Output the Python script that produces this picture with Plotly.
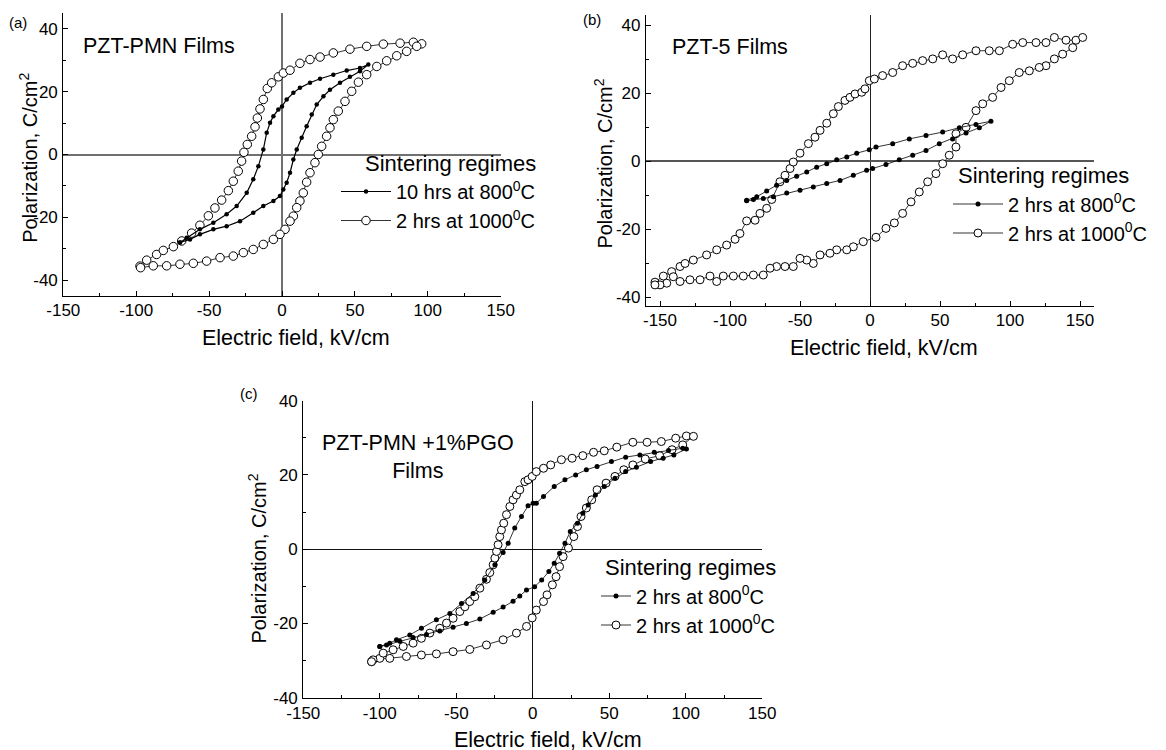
import plotly.graph_objects as go

FONT = "Liberation Sans, Arial, sans-serif"
W, H = 1166, 750
PAGE_OFFSET = 8  # the page body margin that shifts the figure in the window

# ---------------- data ----------------
# Panel (a) PZT-PMN films
A_OPEN_X = [-97.4, -92.8, -86.0, -81.4, -74.5, -68.8, -62.0, -56.3, -50.5, -46.0, -41.4, -36.8, -33.4,
            -30.0, -27.7, -26.1, -23.8, -20.8, -18.5, -16.9, -15.1, -12.8, -10.1, -7.1, -2.5, 0.9, 5.5,
            12.3, 19.2, 26.1, 35.2, 46.6, 58.1, 69.5, 81.0, 90.1, 95.8,
            92.4, 85.5, 78.7, 71.8, 65.0, 58.1, 52.4, 47.8, 43.2, 38.6, 35.2, 32.9, 30.6, 27.2, 24.9,
            22.6, 19.2, 16.9, 14.6, 12.3, 10.1, 7.8, 5.5, 2.1, -1.4, -5.9, -12.8, -19.7, -26.5, -33.4,
            -42.5, -51.7, -60.8, -70.0, -79.1, -88.3, -97.0]
A_OPEN_Y = [-35.5, -33.6, -31.8, -30.5, -29.3, -27.5, -25.0, -22.5, -19.5, -17.0, -14.5, -11.5, -8.5,
            -5.3, -2.1, 0.7, 3.2, 5.8, 8.8, 11.6, 14.5, 17.5, 21.0, 22.8, 24.7, 25.9, 26.8,
            29.0, 30.2, 31.0, 32.3, 33.5, 34.4, 35.1, 35.4, 35.7, 35.2,
            34.4, 32.8, 31.4, 29.8, 28.0, 25.4, 23.0, 20.1, 16.9, 13.8, 11.1, 8.5, 5.8, 2.6, 0.0,
            -2.6, -5.8, -8.8, -12.2, -14.8, -16.9, -19.6, -21.2, -23.8, -25.4, -27.0, -28.6, -30.2, -31.2,
            -32.3, -32.8, -33.9, -34.6, -34.9, -35.4, -35.4, -36.0]
A_FILL_X = [-70.0, -65.4, -56.3, -47.1, -38.0, -31.1, -24.2, -19.7, -16.2, -12.8, -10.5, -8.2, -5.9,
            -2.5, 0.0, 3.2, 7.8, 12.3, 19.2, 26.1, 35.2, 44.4, 53.5, 59.2,
            53.5, 46.6, 39.8, 32.9, 28.4, 23.8, 20.4, 16.9, 13.5, 10.1, 7.8, 5.5, 3.2, 0.9, -1.4,
            -5.9, -12.8, -19.7, -28.8, -38.0, -47.1, -56.3, -63.1, -70.0]
A_FILL_Y = [-28.0, -26.5, -23.8, -21.7, -19.0, -16.4, -12.2, -7.9, -3.7, 1.6, 6.9, 10.1, 12.2,
            14.3, 15.3, 17.5, 19.6, 21.2, 22.8, 24.1, 25.4, 26.7, 27.5, 28.6,
            26.5, 24.7, 22.8, 20.6, 18.5, 15.9, 12.7, 9.0, 5.3, 1.6, -1.6, -5.8, -9.0, -11.1, -13.2,
            -14.8, -16.4, -18.5, -21.2, -22.8, -23.8, -25.4, -27.0, -28.0]

# Panel (b) PZT-5 films
B_OPEN_X = [-153.6, -147.6, -141.7, -135.7, -132.1, -126.2, -116.7, -109.5, -102.4, -96.4, -92.9, -88.1,
            -82.1, -78.6, -73.8, -70.2, -64.3, -60.7, -57.1, -54.8, -50.0, -44.0, -39.3, -35.7, -30.9,
            -26.2, -22.6, -17.9, -14.3, -10.7, -5.9, -3.6, -0.5, 3.1, 9.0, 16.2, 23.3, 30.5, 37.6, 44.8,
            51.9, 59.0, 66.2, 75.7, 85.2, 92.4, 101.9, 109.1, 118.6, 125.7, 131.7, 140.0, 147.1, 151.9,
            144.8, 137.6, 131.7, 125.7, 120.9, 113.8, 106.6, 99.5, 93.6, 87.6, 80.5, 75.7, 68.6, 61.4,
            61.4, 56.6, 51.9, 47.1, 41.2, 35.2, 29.3, 23.3, 17.4, 11.4, 4.3, -4.8, -11.9, -16.6, -23.8,
            -28.6, -35.7, -40.5, -45.2, -50.0, -54.8, -60.7, -66.7, -71.4, -76.2, -83.3, -90.5, -97.6,
            -104.8, -109.5, -114.3, -121.4, -128.6, -135.7, -140.5, -145.2, -150.0, -153.6]
B_OPEN_Y = [-35.5, -33.7, -32.4, -30.9, -30.0, -29.0, -27.5, -26.0, -24.6, -22.9, -21.2, -17.5,
            -17.3, -15.3, -13.8, -11.2, -6.0, -4.1, -2.1, -0.2, 2.4, 5.2, 7.1, 9.1, 11.2,
            14.0, 16.1, 17.9, 18.8, 19.8, 20.3, 21.3, 23.7, 24.2, 25.2, 26.1, 28.1, 28.8, 29.6, 30.1,
            31.3, 30.1, 31.3, 32.5, 32.5, 32.5, 34.4, 34.9, 34.9, 34.9, 36.4, 35.6, 35.6, 36.4,
            33.4, 31.5, 30.1, 28.1, 27.6, 26.6, 26.1, 23.7, 21.7, 18.8, 16.9, 14.9, 10.0, 8.1,
            4.2, 1.8, -0.7, -3.6, -6.0, -9.0, -11.9, -15.3, -18.1, -19.7, -22.3, -23.6, -25.1, -26.0, -26.0,
            -27.0, -27.5, -30.0, -29.0, -28.5, -30.9, -30.9, -30.9, -31.4, -33.4, -33.4, -33.7, -33.7,
            -33.7, -35.3, -33.7, -34.8, -34.8, -35.3, -33.9, -35.8, -36.3, -36.3]
B_FILL_X = [-88.1, -80.9, -73.8, -66.7, -59.5, -52.4, -45.2, -38.1, -30.9, -23.8, -16.6, -9.5, -0.5,
            4.3, 16.2, 28.1, 40.0, 51.9, 63.8, 75.7, 86.4,
            78.1, 68.6, 59.0, 49.5, 40.0, 30.5, 20.9, 11.4, 1.9, -2.4, -11.9, -21.4, -30.9, -40.5,
            -50.0, -59.5, -69.0, -76.2, -83.3, -88.1]
B_FILL_Y = [-11.4, -10.4, -8.7, -7.0, -5.6, -4.4, -3.1, -1.7, -0.7, 0.5, 1.3, 2.4, 3.4,
            4.2, 5.2, 6.6, 7.6, 8.6, 9.9, 10.8, 11.8,
            9.9, 8.3, 6.6, 5.2, 3.2, 1.8, 0.5, -0.9, -2.1, -2.6, -4.1, -5.6, -6.5, -7.5,
            -8.5, -9.3, -10.4, -10.9, -11.2, -11.6]

# Panel (c) PZT-PMN + 1% PGO films
C_OPEN_X = [-105.4, -100.0, -97.8, -91.3, -84.7, -78.2, -72.8, -67.3, -60.8, -56.4, -52.1, -47.7, -44.4,
            -41.2, -37.9, -34.6, -30.3, -28.1, -25.9, -24.8, -23.7, -22.7, -21.6, -20.5, -19.0, -17.2,
            -15.0, -12.9, -10.7, -8.5, -5.2, -3.1, -0.4, 2.3, 7.0, 11.7, 18.7, 25.7, 32.7, 39.7, 46.7,
            54.9, 65.4, 74.7, 84.0, 93.4, 100.4, 105.0,
            98.0, 91.0, 82.9, 73.5, 65.4, 59.5, 53.7, 47.9, 42.0, 38.5, 35.0, 31.5, 29.2, 26.8, 23.3,
            19.8, 17.5, 15.2, 12.8, 9.3, 7.0, 2.3, -0.4, -4.1, -10.7, -19.4, -30.3, -41.2, -52.1,
            -63.0, -72.8, -82.6, -93.5, -104.4, -105.4]
C_OPEN_Y = [-30.3, -29.4, -28.0, -27.1, -26.2, -25.3, -24.0, -22.6, -21.3, -19.9, -18.6, -16.8, -15.5,
            -14.1, -12.8, -10.5, -8.1, -6.3, -4.2, -2.4, -0.6, 1.2, 3.4, 5.2, 7.0, 9.3,
            11.5, 13.3, 14.6, 16.0, 18.2, 18.7, 19.6, 20.9, 21.8, 22.7, 24.1, 24.5, 25.2, 26.1, 26.5,
            27.5, 28.8, 28.8, 29.0, 29.9, 30.5, 30.4,
            28.1, 26.8, 25.2, 24.3, 22.7, 21.4, 19.6, 17.8, 16.0, 13.3, 11.1, 8.8, 6.1, 3.4, 0.3,
            -2.0, -4.7, -7.4, -9.6, -12.3, -14.1, -16.4, -18.5, -20.8, -22.6, -24.4, -25.8, -27.0, -27.6,
            -28.2, -28.5, -28.9, -29.4, -29.8, -30.3]
C_FILL_X = [-100.0, -93.5, -89.1, -80.4, -72.8, -63.0, -54.2, -46.6, -39.0, -31.4, -24.8, -19.4, -16.1,
            -11.8, -7.4, -3.1, 0.2, 2.3, 7.0, 14.0, 21.0, 28.0, 35.0, 42.0, 51.4, 60.7, 70.0, 79.4,
            88.7, 98.0, 100.4,
            92.2, 85.2, 77.0, 67.7, 60.7, 53.7, 46.7, 40.9, 36.2, 32.7, 29.2, 24.5, 21.0, 17.5, 14.0,
            10.5, 5.8, 1.2, -4.1, -8.5, -12.9, -19.4, -25.9, -34.6, -43.4, -52.1, -60.8, -69.5, -78.2,
            -86.9, -95.6, -100.0]
C_FILL_Y = [-26.2, -25.3, -24.4, -23.1, -21.3, -19.0, -17.3, -14.6, -11.9, -8.3, -4.2, -0.9, 1.6,
            5.7, 8.8, 11.7, 12.4, 12.4, 14.2, 16.9, 18.7, 20.0, 21.4, 22.3, 23.6, 24.8, 25.4, 26.1,
            26.6, 27.2, 27.0,
            25.4, 24.5, 23.6, 22.1, 20.9, 19.1, 16.9, 14.6, 11.9, 9.7, 7.0, 4.8, 1.6, -1.1, -3.8,
            -6.0, -8.3, -10.1, -11.0, -12.6, -14.0, -15.6, -17.0, -18.8, -20.0, -21.0, -22.0, -23.0, -23.8,
            -24.8, -25.8, -26.2]

A_NAMES = ["10 hrs at 800<sup>0</sup>C", "2 hrs at 1000<sup>0</sup>C"]
B_NAMES = ["2 hrs at 800<sup>0</sup>C", "2 hrs at 1000<sup>0</sup>C"]
C_NAMES = ["2 hrs at 800<sup>0</sup>C", "2 hrs at 1000<sup>0</sup>C"]

# tick positions and labels (hyphen-minus as in the reference)
X_TICKS = [-150, -100, -50, 0, 50, 100, 150]
X_TICK_TEXT = ["-150", "-100", "-50", "0", "50", "100", "150"]
Y_TICKS = [-40, -20, 0, 20, 40]
Y_TICK_TEXT = ["-40", "-20", "0", "20", "40"]
X_TITLE = "Electric field, kV/cm"
Y_TITLE = "Polarization, C/cm<sup>2</sup>"

# ---------------- figure ----------------
fig = go.Figure()

def add_pair(xo, yo, xf, yf, names, xa, ya, leg, open_size, fill_size, fill_lw):
    fig.add_trace(go.Scatter(
        x=xo, y=yo, xaxis=xa, yaxis=ya, legend=leg, name=names[1], legendrank=2,
        mode="lines+markers",
        line=dict(color="black", width=0.8),
        marker=dict(symbol="circle", size=open_size, color="white",
                    line=dict(color="black", width=1)),
    ))
    fig.add_trace(go.Scatter(
        x=xf, y=yf, xaxis=xa, yaxis=ya, legend=leg, name=names[0], legendrank=1,
        mode="lines+markers",
        line=dict(color="black", width=fill_lw),
        marker=dict(symbol="circle", size=fill_size, color="black"),
    ))

add_pair(A_OPEN_X, A_OPEN_Y, A_FILL_X, A_FILL_Y, A_NAMES, "x", "y", "legend", 8.5, 4.5, 1.2)
add_pair(B_OPEN_X, B_OPEN_Y, B_FILL_X, B_FILL_Y, B_NAMES, "x2", "y2", "legend2", 8, 5, 0.8)
add_pair(C_OPEN_X, C_OPEN_Y, C_FILL_X, C_FILL_Y, C_NAMES, "x3", "y3", "legend3", 8, 5, 0.8)


def px_x(p):
    return (p - PAGE_OFFSET) / W


def px_y(p):
    return 1 - (p - PAGE_OFFSET) / H


def xaxis(dom, rng, anchor, zc, zw, standoff):
    return dict(
        domain=[px_x(dom[0]), px_x(dom[1])], range=rng, anchor=anchor, automargin=False,
        showline=True, linecolor="black", linewidth=1.2, mirror=False,
        ticks="inside", ticklen=5, tickwidth=1, tickcolor="black",
        tickmode="array", tickvals=X_TICKS, ticktext=X_TICK_TEXT, ticklabelstandoff=standoff,
        minor=dict(dtick=25, tick0=0, ticks="inside", ticklen=3, tickcolor="black", showgrid=False),
        showgrid=False, zeroline=True, zerolinecolor=zc, zerolinewidth=zw,
        tickfont=dict(family=FONT, size=17, color="black"),
    )


def yaxis(dom, rng, anchor, zc, zw):
    return dict(
        domain=[px_y(dom[1]), px_y(dom[0])], range=rng, anchor=anchor, automargin=False,
        showline=True, linecolor="black", linewidth=1.2, mirror=False,
        ticks="inside", ticklen=5, tickwidth=1, tickcolor="black",
        tickmode="array", tickvals=Y_TICKS, ticktext=Y_TICK_TEXT, ticklabelstandoff=1,
        minor=dict(dtick=10, tick0=0, ticks="inside", ticklen=3, tickcolor="black", showgrid=False),
        showgrid=False, zeroline=True, zerolinecolor=zc, zerolinewidth=zw,
        tickfont=dict(family=FONT, size=17, color="black"),
    )


def legend_at(x_px, y_px, itemwidth):
    return dict(
        x=px_x(x_px), y=px_y(y_px), xanchor="left", yanchor="top",
        bgcolor="rgba(0,0,0,0)", borderwidth=0, tracegroupgap=0, itemwidth=itemwidth,
        font=dict(family=FONT, size=20, color="black"),
    )


fig.update_layout(
    width=W, height=H,
    margin=dict(l=0, r=0, t=0, b=0, autoexpand=False),
    paper_bgcolor="white", plot_bgcolor="white",
    font=dict(family=FONT, color="black"),
    xaxis=xaxis((63.3, 500.7), [-150, 150], "y", "#707070", 1.5, -2),
    yaxis=yaxis((13, 296), [-45, 45], "x", "#707070", 1.5),
    xaxis2=xaxis((646, 1094), [-160, 160], "y2", "#222222", 1.3, -2),
    yaxis2=yaxis((15, 306), [-42.5, 43], "x2", "#555555", 1.5),
    xaxis3=xaxis((303.3, 762.3), [-150, 150], "y3", "#111111", 1.2, 0),
    yaxis3=yaxis((400.7, 697.7), [-40, 40], "x3", "#111111", 1.2),
    legend=legend_at(336, 172, 50),
    legend2=legend_at(948, 184.5, 50),
    legend3=legend_at(596, 576.5, 30),
    showlegend=True,
)

annotations = [
    dict(text="(a)", x=18, y=22, size=15, anchor="center"),
    dict(text="(b)", x=592, y=19, size=15, anchor="center"),
    dict(text="(c)", x=249, y=393, size=15, anchor="center"),
    dict(text="PZT-PMN Films", x=81, y=46, size=21.5, anchor="left"),
    dict(text="PZT-5 Films", x=670, y=47.5, size=21.5, anchor="left"),
    dict(text="PZT-PMN +1%PGO<br>Films", x=418, y=457, size=21.5, anchor="center"),
    dict(text="Sintering regimes", x=363, y=164, size=22, anchor="left"),
    dict(text="Sintering regimes", x=956, y=175, size=22, anchor="left"),
    dict(text="Sintering regimes", x=602.5, y=567, size=22, anchor="left"),
    # axis titles
    dict(text=X_TITLE, x=295.5, y=338, size=21.5, anchor="center"),
    dict(text=X_TITLE, x=883.5, y=348, size=21.5, anchor="center"),
    dict(text=X_TITLE, x=547.8, y=740, size=21.5, anchor="center"),
    dict(text=Y_TITLE, x=28.3, y=157.5, size=20, anchor="center", angle=-90),
    dict(text=Y_TITLE, x=603.3, y=163.3, size=20, anchor="center", angle=-90),
    dict(text=Y_TITLE, x=257.8, y=558.8, size=20, anchor="center", angle=-90),
]
for a in annotations:
    fig.add_annotation(
        text=a["text"], xref="paper", yref="paper",
        x=px_x(a["x"]), y=px_y(a["y"]), xanchor=a["anchor"], yanchor="middle",
        textangle=a.get("angle", 0),
        showarrow=False, align="center", font=dict(family=FONT, size=a["size"], color="black"),
    )

fig.write_html("out.html")
